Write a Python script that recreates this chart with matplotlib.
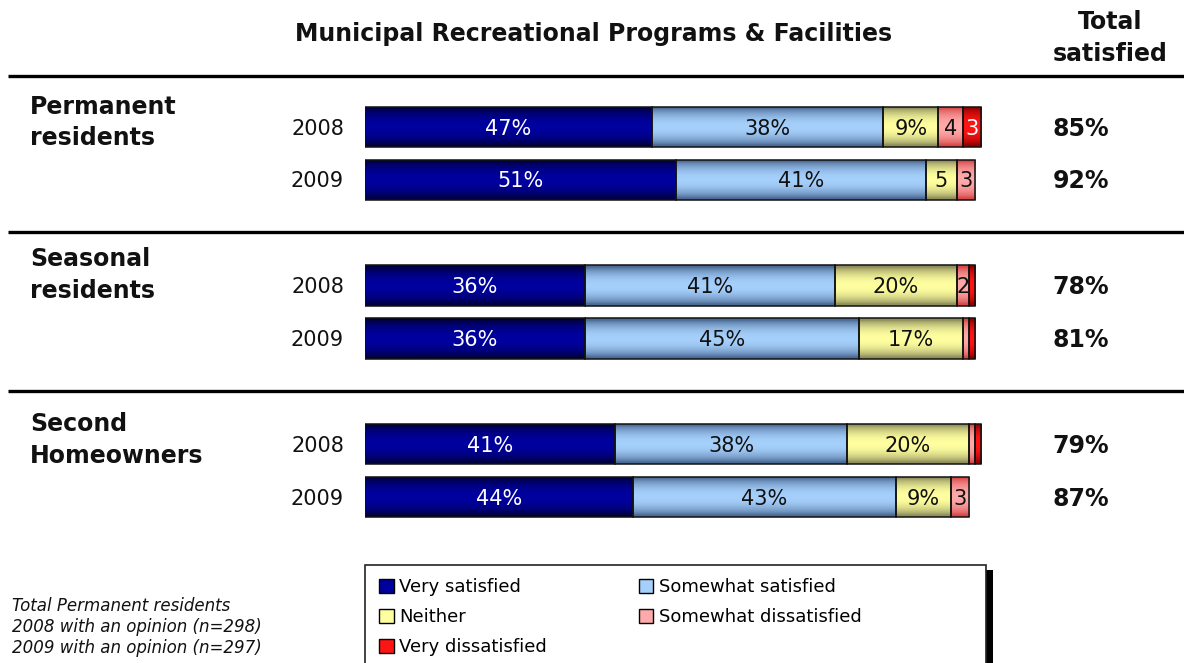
import numpy as np
import matplotlib
matplotlib.use("Agg")
import matplotlib.pyplot as plt
from matplotlib.patches import Rectangle, Patch
from matplotlib.colors import to_rgb
from matplotlib.transforms import blended_transform_factory

plt.rcParams['font.family'] = ['DejaVu Sans']

# ---- data ----
groups = ["Permanent\nresidents", "Seasonal\nresidents", "Second\nHomeowners"]
years = ["2008", "2009"]
categories = ["Very satisfied", "Somewhat satisfied", "Neither",
              "Somewhat dissatisfied", "Very dissatisfied"]
very_satisfied = [47, 51, 36, 36, 41, 44]
somewhat_satisfied = [38, 41, 41, 45, 38, 43]
neither = [9, 5, 20, 17, 20, 9]
somewhat_dissatisfied = [4, 3, 2, 1, 1, 3]
very_dissatisfied = [3, 0, 1, 1, 1, 0]
total_satisfied = [85, 92, 78, 81, 79, 87]
title = "Municipal Recreational Programs & Facilities"
footnote = ["Total Permanent residents",
            "2008 with an opinion (n=298)",
            "2009 with an opinion (n=297)"]

series = [very_satisfied, somewhat_satisfied, neither,
          somewhat_dissatisfied, very_dissatisfied]
# (edge shade, centre highlight, label colour)
styles = [("#00003c", "#0000a0", "white"),
          ("#4a6a94", "#a6d0fc", "#111111"),
          ("#8e8e5c", "#ffffa0", "#111111"),
          ("#d84848", "#ffaaaa", "#111111"),
          ("#900000", "#ff1414", "white")]

W, H = 1184, 663
fig = plt.figure(figsize=(W / 100, H / 100), dpi=100)

def fx(px):
    return px / W

def fy(py):
    return 1 - py / H

# bar positions: two years per group, a gap row between groups
ypos = [0, 1, 3, 4, 6, 7]
XMAX = 103
ax = fig.add_axes([fx(365), fy(524), fx(6.1 * XMAX), (524 - 100) / H])
ax.set_xlim(0, XMAX)
ax.set_ylim(7.511, -0.511)
ax.axis("off")

bar_h = 0.76
t = np.linspace(0, 1, 80)
weight = np.clip(np.sin(np.pi * np.clip((t - 0.05) / 0.9, 0, 1)), 0, 1) ** 0.7

left = np.zeros(len(ypos))
for vals, (c_edge, c_mid, tc) in zip(series, styles):
    e = np.array(to_rgb(c_edge))
    m = np.array(to_rgb(c_mid))
    grad = e[None, :] * (1 - weight[:, None]) + m[None, :] * weight[:, None]
    grad = grad[:, None, :]
    bars = ax.barh(ypos, vals, left=left, height=bar_h, color=c_mid,
                   edgecolor="none", zorder=2)
    for b, v, l, y in zip(bars, vals, left, ypos):
        if v <= 0:
            continue
        im = ax.imshow(grad, extent=(l, l + v, y + bar_h / 2, y - bar_h / 2),
                       origin="lower", aspect="auto",
                       interpolation="bilinear", zorder=2.5)
        im.set_clip_path(b)
        ax.add_patch(Rectangle((l, y - bar_h / 2), v, bar_h, fill=False,
                               edgecolor="#111111", linewidth=1.1, zorder=3))
        if v >= 2:
            txt = f"{v}%" if v >= 9 else f"{v}"
            ax.text(l + v / 2, y + 0.03, txt, ha="center", va="center",
                    fontsize=15, color=tc, zorder=4)
    left = left + np.array(vals)

# row labels
tr_fig_data = blended_transform_factory(fig.transFigure, ax.transData)
for y, yr in zip(ypos, years * 3):
    ax.text(fx(344), y + 0.03, yr, transform=tr_fig_data, ha="right",
            va="center", fontsize=15, color="#111111")
for y, tot in zip(ypos, total_satisfied):
    ax.text(fx(1081), y + 0.03, f"{tot}%", transform=tr_fig_data,
            ha="center", va="center", fontsize=17, fontweight="bold",
            color="#111111")
for g, name in enumerate(groups):
    gy = [-0.08, -0.2, -0.08][g] + 3 * g
    ax.text(fx(30), gy, name, transform=tr_fig_data, ha="left", va="center",
            fontsize=17, fontweight="bold", color="#111111", linespacing=1.38)

# separators between groups
for gy in [-0.97, 1.98, 5.0]:
    ax.plot([fx(8), 1.0], [gy, gy], transform=tr_fig_data, color="black",
            linewidth=2.4, clip_on=False, solid_capstyle="butt")

# headers
fig.text(fx(594), fy(34), title, ha="center", va="center", fontsize=17,
         fontweight="bold", color="#111111")
fig.text(fx(1110), fy(22), "Total", ha="center", va="center",
         fontsize=17, fontweight="bold", color="#111111")
fig.text(fx(1110), fy(54), "satisfied", ha="center", va="center",
         fontsize=17, fontweight="bold", color="#111111")

# footnote
for i, line in enumerate(footnote):
    fig.text(fx(12), fy(606 + 21 * i), line, ha="left", va="center",
             fontsize=12, style="italic", color="#111111")

# legend frame with drop shadow
fig.patches.append(Rectangle((fx(986), fy(700)), fx(7), fy(570) - fy(700),
                             transform=fig.transFigure, facecolor="black",
                             edgecolor="none", zorder=1))
fig.patches.append(Rectangle((fx(365), fy(700)), fx(621), fy(565) - fy(700),
                             transform=fig.transFigure, facecolor="white",
                             edgecolor="#222222", linewidth=1.2, zorder=2))
handles = [Patch(facecolor=s[1], edgecolor="black", linewidth=1.0) for s in styles]
order = [0, 2, 4, 1, 3]
leg = fig.legend([handles[i] for i in order], [categories[i] for i in order],
                 loc="upper left", bbox_to_anchor=(fx(372), fy(571)), ncol=2,
                 frameon=False, fontsize=13, handlelength=0.8,
                 handleheight=0.8, handletextpad=0.3, columnspacing=5.1,
                 labelspacing=0.66, borderaxespad=0)
leg.set_zorder(5)

fig.savefig("out.png", dpi=100)
